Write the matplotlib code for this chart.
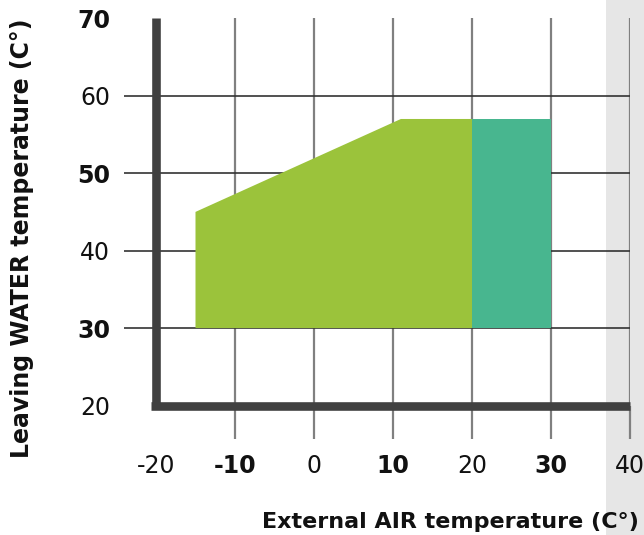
import matplotlib
matplotlib.use("Agg")
import matplotlib.pyplot as plt
from matplotlib.patches import Polygon, Rectangle

plt.rcParams['font.family'] = ['DejaVu Sans']
plt.rcParams['axes.unicode_minus'] = False

# Data
x_ticks = [-20, -10, 0, 10, 20, 30, 40]
y_ticks = [20, 30, 40, 50, 60, 70]
x_bold = [-10, 10, 30]
y_bold = [70, 50, 30]
# Operating envelope (green): external air temp vs leaving water temp
green_x = [-15, -15, 11, 20, 20]
green_y = [30, 45, 57, 57, 30]
# Extended range (teal)
teal_x = [20, 20, 30, 30]
teal_y = [30, 57, 57, 30]
band_start = 37  # grey shaded zone begins (°C)

fig = plt.figure(figsize=(6.44, 5.35), dpi=100)
fig.patch.set_facecolor('white')

L, R, T, B = 156, 630, 18.3, 405.5
W, H = 644, 535
ax = fig.add_axes([L / W, 1 - B / H, (R - L) / W, (B - T) / H])
ax.set_facecolor('none')
ax.set_xlim(-20, 40)
ax.set_ylim(20, 70)

# grey band (figure-level, from x=band_start to right edge)
bx = ax.transData.transform((band_start, 20))[0] / fig.bbox.width
fig.patches.append(Rectangle((bx, 0), 1 - bx, 1, transform=fig.transFigure,
                             facecolor='#e6e6e6', edgecolor='none', zorder=-10))

ax.add_patch(Polygon(list(zip(green_x, green_y)), closed=True,
                     facecolor='#9bc33b', edgecolor='none', zorder=2))
ax.add_patch(Polygon(list(zip(teal_x, teal_y)), closed=True,
                     facecolor='#48b68f', edgecolor='none', zorder=2))

ax.set_axisbelow(True)
ax.set_xticks(x_ticks)
ax.set_yticks(y_ticks)
ax.xaxis.grid(True, color='#808080', linewidth=1.6)
ax.yaxis.grid(True, color='#333333', linewidth=1.2)
ax.tick_params(axis='x', direction='out', length=23.5, width=1.6, color='#808080',
               pad=11.5, labelsize=17, labelcolor='#111111')
ax.tick_params(axis='y', direction='out', length=23, width=1.2, color='#333333',
               pad=10, labelsize=17, labelcolor='#111111')

# hide ticks/gridlines that are absent in the reference
xt = ax.xaxis.get_major_ticks()
xt[0].tick1line.set_visible(False)
xt[0].gridline.set_visible(False)
yt = ax.yaxis.get_major_ticks()
for i in (0, len(yt) - 1):
    yt[i].tick1line.set_visible(False)
    yt[i].gridline.set_visible(False)

for lbl, v in zip(ax.get_xticklabels(), x_ticks):
    lbl.set_fontweight('bold' if v in x_bold else 'normal')
for lbl, v in zip(ax.get_yticklabels(), y_ticks):
    lbl.set_fontweight('bold' if v in y_bold else 'normal')

for s in ('top', 'right'):
    ax.spines[s].set_visible(False)
for s in ('left', 'bottom'):
    ax.spines[s].set_linewidth(6.2)
    ax.spines[s].set_color('#404040')
    ax.spines[s].set_zorder(3)
    ax.spines[s].set_capstyle('butt')
ax.spines['bottom'].set_bounds(-20.57, 40)
ax.spines['left'].set_bounds(19.5, 70)

fig.text(639 / W, 1 - 528 / H, 'External AIR temperature (C°)', ha='right', va='baseline',
         fontsize=16, fontweight='bold', color='#111111')
fig.text(22 / W, 1 - 238 / H, 'Leaving WATER temperature (C°)', ha='center', va='center',
         rotation=90, fontsize=17, fontweight='bold', color='#111111')

fig.savefig('out.png', dpi=100)
